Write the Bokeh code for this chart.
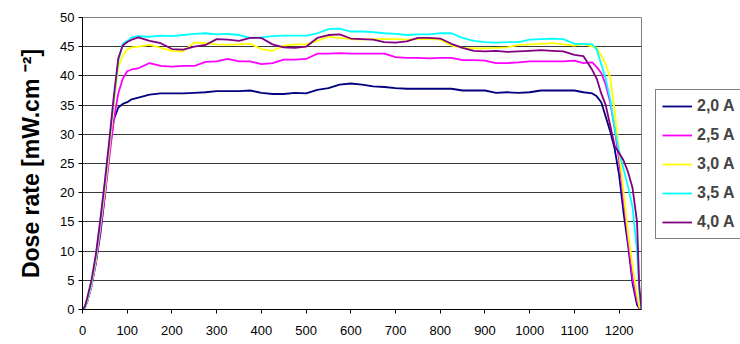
from bokeh.plotting import figure
from bokeh.layouts import row
from bokeh.models import Range1d, FixedTicker, Legend, LegendItem
from bokeh.embed import file_html
from bokeh.resources import INLINE

x_pos = [0, 5, 10, 20, 30, 40, 50, 60, 70, 80, 90, 100, 110, 125, 150, 175, 200, 225, 250, 275,
         300, 325, 350, 375, 400, 425, 450, 475, 500, 525, 550, 575, 600, 625, 650, 675, 700,
         725, 750, 775, 800, 825, 850, 875, 900, 925, 950, 975, 1000, 1025, 1050, 1075, 1100,
         1120, 1140, 1150, 1160, 1170, 1180, 1190, 1200, 1210, 1220, 1230, 1240, 1245, 1250]

s_20A = [0, 0.3, 1.2, 4, 8, 13, 19.5, 27, 32.5, 34.6, 35.2, 35.5, 36, 36.3, 36.8, 37.0, 37.0, 37.0, 37.1, 37.2,
         37.4, 37.4, 37.4, 37.5, 37.1, 36.9, 36.9, 37.1, 37.0, 37.6, 37.9, 38.5, 38.7, 38.5, 38.2, 38.1, 37.9,
         37.8, 37.8, 37.8, 37.8, 37.8, 37.5, 37.5, 37.5, 37.1, 37.2, 37.1, 37.2, 37.5, 37.5, 37.5, 37.5,
         37.2, 37.0, 36.5, 35.5, 33, 30.5, 27.5, 23, 16.5, 11, 4.5, 0.8, 0.2, 0]

s_25A = [0, 0.3, 1.2, 4, 8, 13.5, 19.5, 26, 32.5, 37, 39.5, 40.8, 41.1, 41.3, 42.2, 41.7, 41.6, 41.7, 41.7, 42.4,
         42.5, 42.9, 42.5, 42.5, 42.0, 42.2, 42.8, 42.8, 42.9, 43.8, 43.8, 43.9, 43.8, 43.8, 43.8, 43.8, 43.2,
         43.1, 43.1, 43.0, 43.1, 43.1, 42.7, 42.7, 42.6, 42.2, 42.2, 42.3, 42.5, 42.5, 42.5, 42.5, 42.6,
         42.2, 42.3, 41.5, 40.5, 38.5, 35.5, 31, 25.5, 18.5, 12, 5.4, 1.5, 0.3, 0]

s_30A = [0, 0.3, 1.3, 4.2, 8.5, 14.5, 20.5, 27.5, 35, 41.5, 43.5, 44.5, 44.9, 45.0, 45.3, 44.8, 44.3, 44.2, 45.7, 45.6,
         45.4, 45.3, 45.4, 45.5, 44.6, 44.3, 45.2, 45.4, 45.4, 46.0, 46.7, 46.5, 46.3, 46.2, 46.3, 46.3, 46.3,
         46.2, 46.3, 46.3, 46.2, 45.2, 44.8, 44.7, 44.7, 44.8, 44.9, 45.3, 45.4, 45.5, 45.6, 45.4, 45.2,
         45.5, 45.0, 44.8, 43.5, 42, 39.7, 34, 27, 20, 13, 7.5, 2.5, 0.5, 0]

s_35A = [0, 0.3, 1.5, 4.5, 9, 15, 21.5, 28.5, 36, 42.5, 45.5, 46.0, 46.6, 46.8, 46.7, 46.9, 46.8, 47.0, 47.2, 47.3,
         47.1, 47.2, 47.0, 46.5, 46.6, 46.8, 46.9, 46.9, 46.9, 47.3, 48.0, 48.1, 47.6, 47.6, 47.5, 47.3, 47.2,
         47.0, 47.1, 47.1, 47.3, 47.3, 46.5, 46.0, 45.8, 45.7, 45.8, 45.8, 46.2, 46.3, 46.4, 46.3, 45.5,
         45.5, 45.4, 44.5, 42, 39.5, 36, 31, 27, 24, 21, 17.5, 10, 3, 0]

s_40A = [0, 0.5, 1.8, 5, 9.5, 15.5, 22, 29, 36.5, 43, 45.2, 45.8, 46.2, 46.6, 46.0, 45.6, 44.6, 44.5, 45.0, 45.3,
         46.3, 46.2, 46.0, 46.5, 46.5, 45.4, 44.9, 44.8, 45.0, 46.5, 47.0, 47.1, 46.4, 46.3, 46.2, 45.8, 45.7,
         45.9, 46.5, 46.5, 46.4, 45.5, 44.8, 44.3, 44.2, 44.3, 44.1, 44.2, 44.3, 44.4, 44.3, 44.2, 43.6,
         43.4, 41.0, 39.5, 37, 35, 31.5, 28, 26.8, 25.5, 23.5, 20.8, 15, 4, 0]

series_names = ["2,0 A", "2,5 A", "3,0 A", "3,5 A", "4,0 A"]
series_colors = ["#000080", "#FF00FF", "#FFFF00", "#00FFFF", "#800080"]
series_values = [s_20A, s_25A, s_30A, s_35A, s_40A]

x_ticks = list(range(0, 1201, 100))
y_ticks = list(range(0, 51, 5))

FONT = "Liberation Sans"

p = figure(width=655, height=344, x_range=Range1d(0, 1250), y_range=Range1d(0, 50),
           output_backend="svg", toolbar_location=None,
           min_border_left=82, min_border_right=14, min_border_top=17, min_border_bottom=35)
p.outline_line_color = "#808080"
p.outline_line_width = 1
p.background_fill_color = "white"
p.border_fill_color = "white"

p.xaxis.ticker = FixedTicker(ticks=x_ticks)
p.yaxis.ticker = FixedTicker(ticks=y_ticks)
for ax in (p.xaxis[0], p.yaxis[0]):
    ax.minor_tick_line_color = None
    ax.axis_line_color = "black"
    ax.major_tick_line_color = "black"
    ax.major_tick_out = 4
    ax.major_tick_in = 0
    ax.major_label_text_font = FONT
    ax.major_label_text_font_size = "13px"
    ax.major_label_text_color = "black"
p.xaxis.major_label_standoff = 12
p.yaxis.major_label_standoff = 4

p.yaxis.axis_label = "Dose rate [mW.cm \u207b\u00b2]"
p.yaxis.axis_label_text_font = FONT
p.yaxis.axis_label_text_font_style = "bold"
p.yaxis.axis_label_text_font_size = "23px"
p.yaxis.axis_label_text_color = "black"
p.yaxis.axis_label_standoff = 13

p.xgrid.grid_line_color = None
p.ygrid.grid_line_color = "#3a3a3a"
p.ygrid.grid_line_width = 1

for name, col, vals in zip(series_names, series_colors, series_values):
    p.line(x_pos, vals, line_color=col, line_width=1.8)

# legend panel: a narrow figure to the right; its copies of the series lie outside its
# (hidden) ranges, so only their legend keys are seen
lg = figure(width=85, height=344, x_range=Range1d(0, 1), y_range=Range1d(1000, 1001),
            x_axis_type=None, y_axis_type=None, output_backend="svg", toolbar_location=None,
            min_border=0)
lg.outline_line_color = None
lg.background_fill_color = "white"
lg.border_fill_color = "white"
key_renderers = [lg.line(x_pos, vals, line_color=col, line_width=1.8)
                 for col, vals in zip(series_colors, series_values)]

legend = Legend(items=[LegendItem(label=n, renderers=[r]) for n, r in zip(series_names, key_renderers)],
                location=(0, 70), orientation="vertical")
legend.border_line_color = "black"
legend.border_line_width = 1
legend.background_fill_color = "white"
legend.background_fill_alpha = 1
legend.label_text_font = FONT
legend.label_text_font_style = "bold"
legend.label_text_font_size = "16px"
legend.glyph_width = 30
legend.glyph_height = 20
legend.label_height = 20
legend.spacing = 9
legend.padding = 6
legend.margin = 0
legend.label_standoff = 5
lg.add_layout(legend)

layout = row(p, lg, spacing=0)
open("out.html", "w").write(file_html(layout, INLINE))
